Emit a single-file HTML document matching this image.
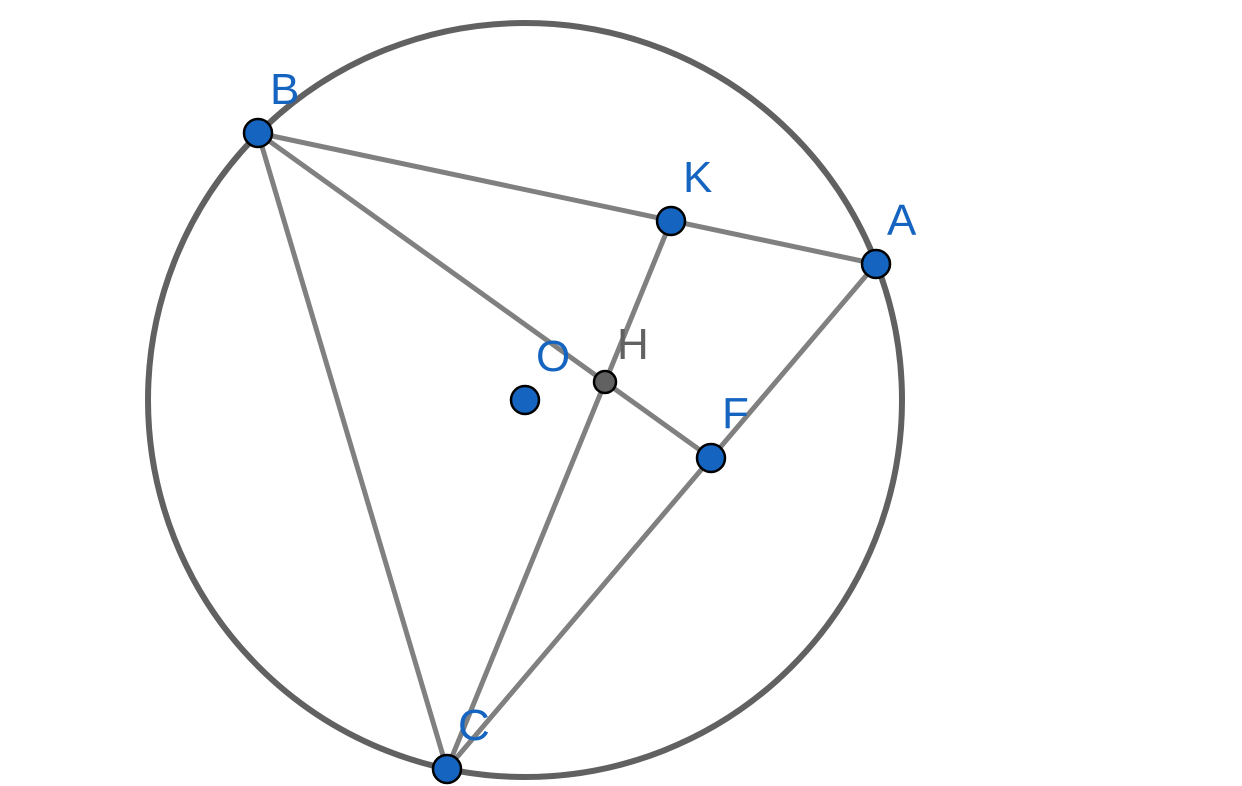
<!DOCTYPE html>
<html><head><meta charset="utf-8"><style>html,body{margin:0;padding:0;background:#fff}svg{display:block}</style></head>
<body>
<svg width="1242" height="786" viewBox="0 0 1242 786" xmlns="http://www.w3.org/2000/svg">
<circle cx="525" cy="400" r="377" fill="none" stroke="#616161" stroke-width="6"/>
<g stroke="#808080" stroke-width="5" stroke-linecap="round">
<line x1="258" y1="133" x2="876" y2="264"/>
<line x1="258" y1="133" x2="447" y2="769"/>
<line x1="876" y1="264" x2="447" y2="769"/>
<line x1="258" y1="133" x2="711" y2="458"/>
<line x1="671" y1="221" x2="447" y2="769"/>
</g>
<g stroke="#000" stroke-width="2.5" fill="#1565c0">
<circle cx="258" cy="133" r="14"/>
<circle cx="671" cy="221" r="14"/>
<circle cx="876" cy="264" r="14"/>
<circle cx="711" cy="458" r="14"/>
<circle cx="447" cy="769" r="14"/>
<circle cx="525" cy="400" r="14"/>
<circle cx="605" cy="382" r="11" fill="#616161"/>
</g>
<g font-family="Liberation Sans, sans-serif" font-size="44" fill="#1565c0">
<text x="270" y="104">B</text>
<text x="683" y="192">K</text>
<text x="887" y="235">A</text>
<text x="536" y="371">O</text>
<text x="722" y="428">F</text>
<text x="458" y="740">C</text>
<text x="617" y="359" fill="#616161">H</text>
</g>
</svg>
</body></html>
